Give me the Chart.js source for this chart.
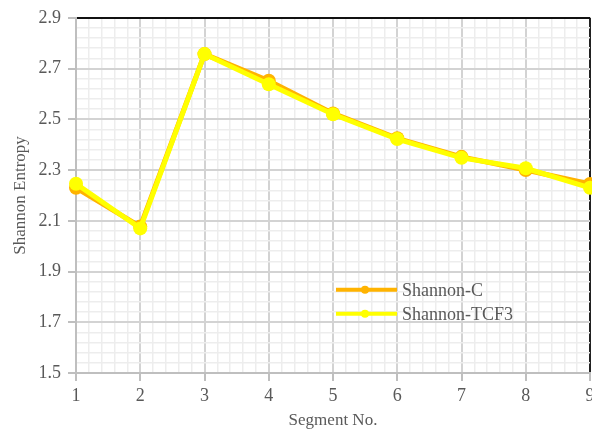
<!DOCTYPE html>
<html>
<head>
<meta charset="utf-8">
<script src="https://cdn.jsdelivr.net/npm/chart.js@4/dist/chart.umd.min.js"></script>
<style>
  html, body { margin: 0; padding: 0; background: #ffffff; overflow: hidden; }
  #wrap { width: 600px; height: 432px; }
</style>
</head>
<body>
<div id="wrap"><canvas id="c" width="600" height="432"></canvas></div>
<script>
// Segment numbers along the x axis
const segments = [1, 2, 3, 4, 5, 6, 7, 8, 9];
// Shannon entropy per segment
const shannonC    = [2.230, 2.077, 2.757, 2.652, 2.523, 2.425, 2.352, 2.300, 2.245];
const shannonTCF3 = [2.246, 2.070, 2.757, 2.638, 2.520, 2.422, 2.348, 2.307, 2.230];
const seriesNames = ['Shannon-C', 'Shannon-TCF3'];
// Axis ranges and label spacing
const yMin = 1.5, yMax = 2.9, yMajor = 0.2, yMinor = 0.04;
const xMin = 1, xMax = 9, xMajor = 1, xMinor = 0.2;

const textColor = '#595959';
const fontFamily = '"Liberation Serif", "Times New Roman", serif';

function isMajor(v, base, step) {
  const k = (v - base) / step;
  return Math.abs(k - Math.round(k)) < 1e-6;
}

const toPoints = (ys) => segments.map((x, i) => ({ x: x, y: ys[i] }));

// Legend drawn inside the plot area
const innerLegend = {
  id: 'innerLegend',
  afterDatasetsDraw(chart) {
    const { ctx, chartArea } = chart;
    const x0 = chartArea.left + 260;
    const y0 = chartArea.top + 272;
    const rowGap = 24;
    chart.data.datasets.forEach((ds, i) => {
      const y = y0 + i * rowGap;
      ctx.save();
      ctx.strokeStyle = ds.borderColor;
      ctx.lineWidth = 4;
      ctx.beginPath();
      ctx.moveTo(x0, y);
      ctx.lineTo(x0 + 61, y);
      ctx.stroke();
      ctx.fillStyle = ds.borderColor;
      ctx.beginPath();
      ctx.arc(x0 + 29, y, 4, 0, Math.PI * 2);
      ctx.fill();
      ctx.fillStyle = textColor;
      ctx.font = '18px ' + fontFamily;
      ctx.textBaseline = 'middle';
      ctx.textAlign = 'left';
      ctx.fillText(ds.label, x0 + 66, y + 1);
      ctx.restore();
    });
  }
};

new Chart(document.getElementById('c'), {
  type: 'line',
  data: {
    datasets: [
      {
        label: seriesNames[0],
        data: toPoints(shannonC),
        borderColor: '#FFB300',
        backgroundColor: '#FFB300',
        borderWidth: 5,
        pointRadius: 7,
        pointBorderWidth: 0,
        pointBackgroundColor: '#FFB300',
        tension: 0,
        clip: false,
        order: 2
      },
      {
        label: seriesNames[1],
        data: toPoints(shannonTCF3),
        borderColor: '#FFFF00',
        backgroundColor: '#FFFF00',
        borderWidth: 5,
        pointRadius: 7,
        pointBorderWidth: 0,
        pointBackgroundColor: '#FFFF00',
        tension: 0,
        clip: false,
        order: 1
      }
    ]
  },
  options: {
    responsive: false,
    animation: false,
    events: [],
    layout: { padding: { top: 17, right: 10, bottom: 0, left: 0 } },
    plugins: {
      legend: { display: false },
      tooltip: { enabled: false }
    },
    scales: {
      x: {
        type: 'linear',
        min: xMin,
        max: xMax,
        afterFit(scale) { scale.height = 59; },
        border: { display: true, color: '#bfbfbf', width: 2 },
        grid: {
          drawTicks: true,
          tickLength: 8,
          color: (c) => {
            const v = c.tick ? c.tick.value : 0;
            if (Math.abs(v - xMax) < 1e-6) return '#222222';
            return isMajor(v, xMin, xMajor) ? '#d3d3d3' : '#ededed';
          },
          lineWidth: (c) => {
            const v = c.tick ? c.tick.value : 0;
            return isMajor(v, xMin, xMajor) ? 2 : 1.5;
          },
          tickColor: (c) => {
            const v = c.tick ? c.tick.value : 0;
            return isMajor(v, xMin, xMajor) ? '#bfbfbf' : 'rgba(0,0,0,0)';
          },
          tickWidth: 2
        },
        ticks: {
          stepSize: xMinor,
          autoSkip: false,
          maxRotation: 0,
          padding: 4,
          color: textColor,
          font: { family: fontFamily, size: 18 },
          callback: (v) => isMajor(v, xMin, xMajor) ? String(Math.round(v)) : ''
        },
        title: {
          display: true,
          text: 'Segment No.',
          color: textColor,
          font: { family: fontFamily, size: 17 },
          padding: { top: 0, bottom: 1 }
        }
      },
      y: {
        type: 'linear',
        min: yMin,
        max: yMax,
        afterFit(scale) { scale.width = 76; },
        border: { display: true, color: '#bfbfbf', width: 2 },
        grid: {
          drawTicks: true,
          tickLength: 8,
          color: (c) => {
            const v = c.tick ? c.tick.value : 0;
            if (Math.abs(v - yMax) < 1e-6) return '#111111';
            return isMajor(v, yMin, yMajor) ? '#d3d3d3' : '#ededed';
          },
          lineWidth: (c) => {
            const v = c.tick ? c.tick.value : 0;
            return isMajor(v, yMin, yMajor) ? 2 : 1.5;
          },
          tickColor: (c) => {
            const v = c.tick ? c.tick.value : 0;
            return isMajor(v, yMin, yMajor) ? '#bfbfbf' : 'rgba(0,0,0,0)';
          },
          tickWidth: 2
        },
        ticks: {
          stepSize: yMinor,
          autoSkip: false,
          padding: 7,
          color: textColor,
          font: { family: fontFamily, size: 18 },
          callback: (v) => isMajor(v, yMin, yMajor) ? v.toFixed(1) : ''
        },
        title: {
          display: true,
          text: 'Shannon Entropy',
          color: textColor,
          font: { family: fontFamily, size: 17 },
          padding: { top: 10, bottom: 0 }
        }
      }
    }
  },
  plugins: [innerLegend]
});
</script>
</body>
</html>
